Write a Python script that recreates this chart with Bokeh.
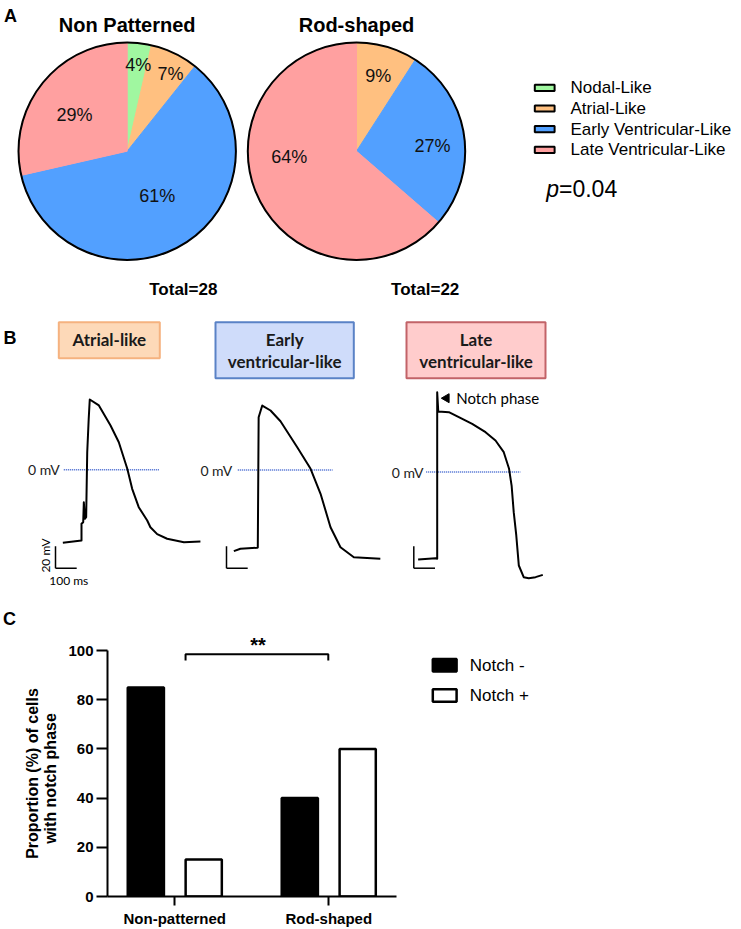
import math
from bokeh.plotting import figure
from bokeh.layouts import column, row
from bokeh.models import Range1d, FixedTicker
from bokeh.core.properties import value
from bokeh.embed import file_html
from bokeh.resources import INLINE

# ---------------- data ----------------
pie_categories = ["Nodal-Like", "Atrial-Like", "Early Ventricular-Like", "Late Ventricular-Like"]
pie_colors = ["#a0f7a0", "#ffc080", "#52a0ff", "#ffa0a0"]
nonpatterned_counts = [1, 2, 17, 8]      # Total=28
rodshaped_counts = [0, 2, 6, 14]         # Total=22
pie_titles = ["Non Patterned", "Rod-shaped"]
p_value = "0.04"

# action potential traces: time (ms from upstroke), membrane potential (mV)
atrial_t = [-88, 0, 0, 8, 11, 16, 22, 27, 34, 39, 82, 137, 176, 216, 239, 270, 310, 325, 357, 404, 483, 561]
atrial_v = [-66.4, -64.3, -49.1, -47.6, -29.5, -44.5, -43.1, 16.0, 46.4, 63.9, 58.5, 40.3, 25.1, 0.9,
            -17.3, -34.0, -46.1, -52.2, -58.5, -62.7, -65.8, -65.2]
early_t = [-113, -82, -3, 0, 4, 21, 60, 107, 186, 249, 296, 343, 390, 453, 578]
early_v = [-73.8, -71.6, -70.7, -70.5, 48.0, 58.6, 54.1, 44.3, 20.7, 1.1, -21.6, -52.0, -70.2, -79.3, -80.7]
late_t = [-90, -8, 0, 0, 5, 55, 102, 165, 228, 275, 314, 339, 351, 361, 373, 385, 408, 432, 464, 498]
late_v = [-79.5, -78.4, -78.9, 72.5, 55.0, 54.4, 49.8, 43.8, 36.2, 28.6, 18.0, 2.9, -12.3, -36.5,
          -57.7, -85.0, -95.6, -96.5, -95.6, -93.5]
trace_names = [["Atrial-like"], ["Early", "ventricular-like"], ["Late", "ventricular-like"]]
scale_mv = 20
scale_ms = 100

bar_groups = ["Non-patterned", "Rod-shaped"]
notch_minus = [85, 40]
notch_plus = [15, 60]
bar_ticks = [0, 20, 40, 60, 80, 100]
bar_series = ["Notch -", "Notch +"]
y_title = ["Proportion (%) of cells", "with notch phase"]

ARIAL = value("Liberation Sans")
CALI = value("Lato")

def blank(w, h, xr, yr, **kw):
    p = figure(width=w, height=h, x_range=xr, y_range=yr, output_backend="svg",
               toolbar_location=None, x_axis_location=None, y_axis_location=None,
               outline_line_color=None, **kw)
    p.grid.visible = False
    return p

# ---------------- panel A (pixel-like layout units) ----------------
pA = blank(741, 300, Range1d(0, 741), Range1d(-300, 0), min_border=0)
centers = [(126.7, 150.7), (356.0, 150.7)]
radius = 108.7
label_offsets = [
    [(11, -86.7), (43.3, -77.7), (30.1, 44.3), (-52.7, -36.4)],
    [None, (21.7, -75.7), (76, -5.7), (-67.3, 6)],
]
for k, counts in enumerate([nonpatterned_counts, rodshaped_counts]):
    total = sum(counts)
    cx, cy = centers[k]
    acc = 0
    xs, ys, st, en, cols = [], [], [], [], []
    tx, ty, tt = [], [], []
    for i, c in enumerate(counts):
        a0 = math.pi / 2 - 2 * math.pi * acc / total
        acc += c
        a1 = math.pi / 2 - 2 * math.pi * acc / total
        if c == 0:
            continue
        xs.append(cx); ys.append(-cy); st.append(a0); en.append(a1); cols.append(pie_colors[i])
        dx, dy = label_offsets[k][i]
        tx.append(cx + dx); ty.append(-(cy + dy)); tt.append(f"{round(100 * c / total)}%")
    pA.wedge(x=xs, y=ys, radius=radius, start_angle=st, end_angle=en, direction="clock",
             fill_color=cols, line_color=cols, line_width=1)
    pA.circle(x=[cx], y=[-cy], radius=radius, fill_color=None, line_color="black", line_width=2)
    pA.text(x=tx, y=ty, text=tt, text_font=ARIAL, text_font_size="18px",
            text_align="center", text_baseline="middle", text_color="#111111")
    pA.text(x=[cx], y=[-24], text=[pie_titles[k]], text_font=ARIAL, text_font_style="bold",
            text_font_size="20px", text_align="center", text_baseline="middle")
    pA.text(x=[[182.8, 424.7][k]], y=[-289.3], text=[f"Total={total}"], text_font=ARIAL,
            text_font_style="bold", text_font_size="17px", text_align="center", text_baseline="middle")

pA.text(x=[10], y=[-15], text=["A"], text_font=ARIAL, text_font_style="bold",
        text_font_size="18px", text_align="center", text_baseline="middle")
leg_y = [-(87.3 + 20.7 * i) for i in range(len(pie_categories))]
pA.rect(x=[544.2] * 4, y=leg_y, width=19.8, height=6.2, fill_color=pie_colors,
        line_color="black", line_width=2)
pA.text(x=[570] * 4, y=leg_y, text=pie_categories, text_font=ARIAL, text_font_size="17px",
        text_align="left", text_baseline="middle")
pA.text(x=[545.7], y=[-188.3], text=["p"], text_font=ARIAL, text_font_style="italic",
        text_font_size="23px", text_align="left", text_baseline="middle")
pA.text(x=[558.5], y=[-188.3], text=["=" + p_value], text_font=ARIAL,
        text_font_size="23px", text_align="left", text_baseline="middle")

# ---------------- panel B (ms / mV) ----------------
PX_MS, PX_MV, X0, Y0 = 0.212, 1.1, 81.0, 469.3
def bx(px): return (px - X0) / PX_MS
def by(py): return (Y0 - py) / PX_MV

pB = blank(741, 300, Range1d(bx(0), bx(741)), Range1d(by(600), by(300)), min_border=0)
anchors = [(81.0, 469.3), (257.3, 469.5), (436.7, 471.5)]
traces = [(atrial_t, atrial_v), (early_t, early_v), (late_t, late_v)]
zero_line_px = [(63.3, 159.2), (237.3, 332.0), (425.7, 520.0)]
zero_label_px = [59.3, 231.7, 423.0]
scale_corner_px = [(55.0, 567.7), (226.0, 567.7), (413.3, 567.7)]
boxes_px = [(58.3, 159.3, 321.7, 357.7), (215.0, 353.3, 321.7, 377.7), (406.0, 545.0, 321.7, 377.7)]
box_fill = ["#fdd9b8", "#cfdcfa", "#ffcccc"]
box_line = ["#f5b27f", "#5a82c6", "#c26368"]

for i, (tt_, vv_) in enumerate(traces):
    ox, oy = bx(anchors[i][0]), by(anchors[i][1])
    l, r, t, b = boxes_px[i]
    pB.quad(left=[bx(l)], right=[bx(r)], top=[by(t)], bottom=[by(b)],
            fill_color=box_fill[i], line_color=box_line[i], line_width=2)
    names = trace_names[i]
    cxp = (l + r) / 2
    ys_px = [339.3] if len(names) == 1 else [339.3, 361.0]
    pB.text(x=[bx(cxp)] * len(names), y=[by(v) for v in ys_px], text=names, text_font=CALI,
            text_font_style="bold", text_font_size="17px", text_align="center",
            text_baseline="middle", text_color="#1a1a1a")
    z0, z1 = zero_line_px[i]
    pB.line(x=[bx(z0), bx(z1)], y=[oy, oy], line_color="#3a5fcd", line_width=1.5, line_dash="1 1")
    pB.text(x=[bx(zero_label_px[i])], y=[oy], text=["0 mV"], text_font=CALI, text_font_size="14px",
            text_align="right", text_baseline="middle", text_color="#222222")
    pB.line(x=[t + ox for t in tt_], y=[v + oy for v in vv_], line_color="black",
            line_width=2, line_join="round")
    sx, sy = bx(scale_corner_px[i][0]), by(scale_corner_px[i][1])
    pB.multi_line(xs=[[sx, sx], [sx, sx + scale_ms]], ys=[[sy + scale_mv, sy], [sy, sy]],
                  line_color="black", line_width=1.5)

pB.text(x=[bx(45)], y=[by(555)], text=[f"{scale_mv} mV"], angle=math.pi / 2, text_font=CALI,
        text_font_size="12px", text_align="center", text_baseline="middle")
pB.text(x=[bx(68.3)], y=[by(580)], text=[f"{scale_ms} ms"], text_font=CALI,
        text_font_size="12px", text_align="center", text_baseline="middle")
pB.scatter(x=[bx(446)], y=[by(397.7)], marker="triangle", size=9, angle=math.pi / 2,
           fill_color="black", line_color="black")
pB.text(x=[bx(455.7)], y=[by(397.7)], text=["Notch phase"], text_font=CALI,
        text_font_size="15px", text_align="left", text_baseline="middle")
pB.text(x=[bx(9.4)], y=[by(337.5)], text=["B"], text_font=ARIAL, text_font_style="bold",
        text_font_size="18px", text_align="center", text_baseline="middle")

# ---------------- panel C (bar chart) ----------------
C_TOP, C_BOT, C_H = 600, 896, 329
BOTTOM_BORDER = 600 + C_H - C_BOT   # 33 px for the category axis
PX_UNIT = 2.46                      # px per percent
XL, XR = 0.563, 2.44
pC = figure(width=344, height=C_H, x_range=Range1d(XL, XR),
            y_range=Range1d(0, (C_BOT - C_TOP) / PX_UNIT),
            output_backend="svg", toolbar_location=None, min_border_left=45, min_border_right=10,
            min_border_top=0, min_border_bottom=BOTTOM_BORDER, outline_line_color=None)
pC.grid.visible = False
pos = [i + 1 for i in range(len(bar_groups))]
off, bw = 0.188, 0.235
pC.vbar(x=[p - off for p in pos], top=notch_minus, bottom=0, width=bw,
        fill_color="black", line_color="black", line_width=2.5)
pC.vbar(x=[p + off for p in pos], top=notch_plus, bottom=0, width=bw,
        fill_color="white", line_color="black", line_width=2.5)
pC.line(x=[1.07, 1.07, 1.997, 1.997], y=[95.9, 98.5, 98.5, 95.9], line_color="black", line_width=2)
pC.text(x=[1.54], y=[102.2], text=["**"], text_font=ARIAL, text_font_style="bold",
        text_font_size="20px", text_align="center", text_baseline="middle")

for ax in (pC.xaxis[0], pC.yaxis[0]):
    ax.axis_line_width = 2
    ax.major_tick_line_width = 2
    ax.major_tick_in = 0
    ax.minor_tick_line_color = None
    ax.major_label_text_font = "Liberation Sans"
    ax.major_label_text_font_style = "bold"
    ax.major_label_text_font_size = "15px"
    ax.major_label_text_color = "black"
pC.yaxis.ticker = FixedTicker(ticks=bar_ticks)
pC.yaxis.bounds = (bar_ticks[0], bar_ticks[-1])
pC.yaxis.major_tick_out = 11
pC.yaxis.major_label_standoff = 3
pC.xaxis.ticker = FixedTicker(ticks=pos)
pC.xaxis.major_label_overrides = {p: g for p, g in zip(pos, bar_groups)}
pC.xaxis.major_tick_out = 9
pC.xaxis.major_label_standoff = 4

# left strip: panel letter and y-axis title (pixel layout units)
pY = blank(62, C_H, Range1d(0, 62), Range1d(-C_BOT, -C_TOP),
           min_border_left=0, min_border_right=0, min_border_top=0, min_border_bottom=BOTTOM_BORDER)
pY.text(x=[9], y=[-618], text=["C"], text_font=ARIAL, text_font_style="bold",
        text_font_size="18px", text_align="center", text_baseline="middle")
pY.text(x=[31.7, 50.0], y=[-773, -778], text=y_title, angle=math.pi / 2, text_font=ARIAL,
        text_font_style="bold", text_font_size="16px", text_align="center", text_baseline="middle")

# right strip: legend
pL = blank(335, C_H, Range1d(406, 741), Range1d(-C_BOT, -C_TOP),
           min_border_left=0, min_border_right=0, min_border_top=0, min_border_bottom=BOTTOM_BORDER)
ly = [-664.8, -695.0]
pL.rect(x=[444.2, 444.2], y=ly, width=23.8, height=12.5, fill_color=["black", "white"],
        line_color="black", line_width=2.5)
pL.text(x=[469.3, 469.3], y=ly, text=bar_series, text_font=ARIAL, text_font_size="17px",
        text_align="left", text_baseline="middle")

layout = column(pA, pB, row(pY, pC, pL))
open("out.html", "w").write(file_html(layout, INLINE))
